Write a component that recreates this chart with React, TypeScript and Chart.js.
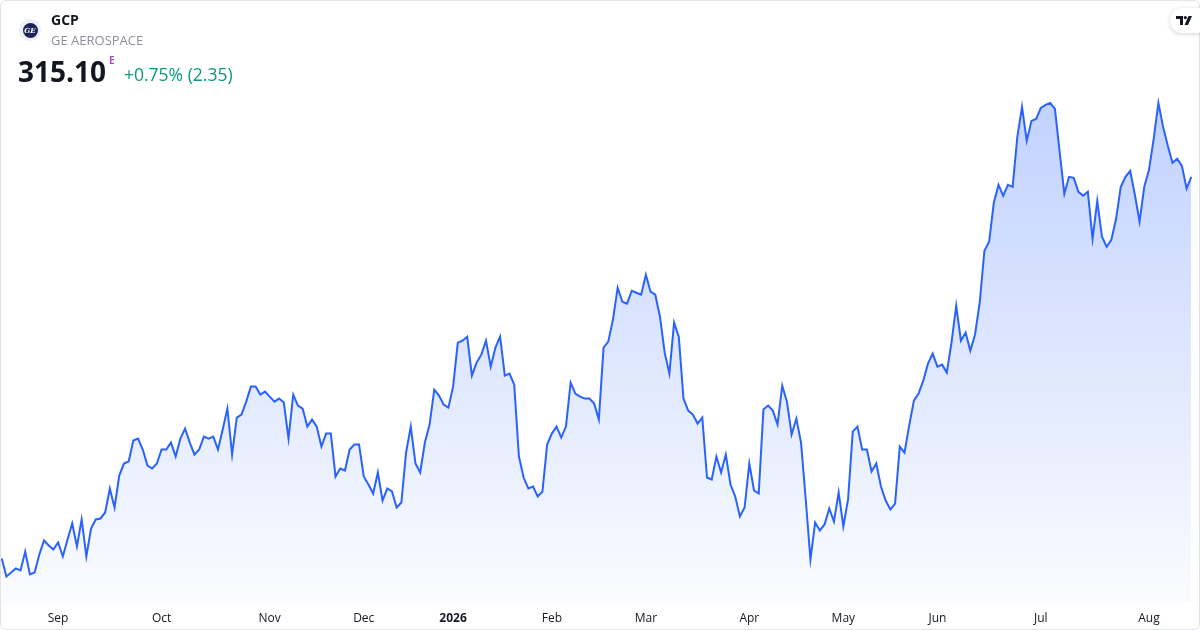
import React, { useEffect, useRef } from 'react';
import { Chart, registerables } from 'chart.js';

Chart.register(...registerables);

// Daily closes, one array per month
const AUG_2025 = [238.7, 235.1, 235.9, 236.7, 236.3, 240.1, 235.5, 235.9, 239.5, 242.3, 241.3, 240.5];
const SEP_2025 = [241.9, 239.1, 242.5, 245.7, 241.1, 246.5, 239.1, 244.7, 246.5, 246.7, 247.9, 252.7, 248.9, 255.3, 257.7, 258.1, 262.3, 262.7, 260.5, 257.3, 256.7, 257.7];
const OCT_2025 = [260.5, 260.5, 261.9, 259.1, 262.7, 264.7, 261.9, 259.5, 260.5, 263.1, 262.7, 263.1, 260.5, 264.5, 268.7, 259.5, 266.9, 267.5, 270.1, 273.1, 273.1, 271.5, 272.1];
const NOV_2025 = [271.1, 270.1, 270.7, 269.9, 262.7, 271.5, 269.3, 268.7, 265.1, 266.5, 265.1, 261.1, 263.7, 263.7, 255.1, 256.7, 256.3, 260.5, 261.5, 261.5];
const DEC_2025 = [255.1, 253.5, 251.7, 255.9, 250.3, 252.7, 252.1, 248.9, 249.9, 259.9, 265.1, 257.7, 255.9, 261.9, 265.5, 272.5, 271.3, 269.5, 268.9];
const JAN_2026 = [273.1, 281.9, 282.3, 283.1, 275.3, 277.9, 279.5, 282.3, 277.1, 280.9, 283.1, 275.3, 275.7, 273.5, 259.1, 254.9, 252.7, 253.1, 251.1, 252.1, 261.5];
const FEB_2026 = [263.7, 265.1, 262.9, 265.1, 273.9, 271.7, 271.1, 270.7, 270.7, 269.7, 266.5, 280.9, 282.1, 286.5, 292.9, 290.1, 289.7, 292.3, 291.9, 291.5];
const MAR_2026 = [295.5, 292.1, 291.5, 287.1, 279.9, 275.7, 285.9, 283.1, 270.7, 268.3, 267.5, 265.7, 266.9, 254.9, 254.5, 259.1, 255.9, 259.5, 253.5, 251.1, 247.1, 248.9];
const APR_2026 = [257.7, 252.3, 251.7, 268.5, 269.3, 268.3, 265.5, 273.3, 270.1, 263.5, 266.7, 261.9, 250.5, 238.5, 245.9, 244.3, 245.5, 248.7, 246.1, 251.9];
const MAY_2026 = [245.1, 250.5, 264.1, 265.1, 260.5, 260.5, 256.1, 257.7, 253.1, 250.3, 248.5, 249.7, 261.1, 259.9, 265.3, 270.3, 271.7, 274.3, 277.7, 279.7];
const JUN_2026 = [277.1, 277.5, 275.9, 281.9, 289.3, 282.3, 283.9, 280.3, 283.5, 289.9, 300.3, 302.1, 309.9, 313.5, 311.3, 313.5, 313.1, 323.1, 329.1, 322.3, 326.3, 326.7];
const JUL_2026 = [328.9, 329.5, 329.9, 328.7, 320.1, 311.7, 315.1, 314.9, 312.1, 311.3, 312.1, 302.7, 310.3, 303.1, 301.1, 302.5, 306.7, 313.1, 315.1, 316.3, 311.5, 306.1, 313.1];
const AUG_2026 = [316.5, 322.7, 329.9, 325.1, 321.3, 317.9, 318.7, 317.3, 312.75, 315.1];

const MONTH_SERIES = [AUG_2025, SEP_2025, OCT_2025, NOV_2025, DEC_2025, JAN_2026, FEB_2026, MAR_2026, APR_2026, MAY_2026, JUN_2026, JUL_2026, AUG_2026];
// Tick label shown on the first trading day of each month ('' = not shown)
const MONTH_TICKS = ['', 'Sep', 'Oct', 'Nov', 'Dec', '2026', 'Feb', 'Mar', 'Apr', 'May', 'Jun', 'Jul', 'Aug'];

const Y_MIN = 229.5;
const Y_MAX = 350.5;

const LINE_COLOR = '#2962FF';

export default function App() {
  const canvasRef = useRef<HTMLCanvasElement | null>(null);

  useEffect(() => {
    const canvas = canvasRef.current;
    if (!canvas) return;

    const labels: string[] = [];
    const values: number[] = [];
    MONTH_SERIES.forEach((arr, m) => {
      arr.forEach((v, i) => {
        labels.push(i === 0 ? MONTH_TICKS[m] : '');
        values.push(v);
      });
    });

    const chart = new Chart(canvas, {
      type: 'line',
      data: {
        labels,
        datasets: [
          {
            data: values,
            borderColor: LINE_COLOR,
            borderWidth: 2,
            pointRadius: 0,
            pointHoverRadius: 0,
            tension: 0,
            fill: 'start',
            backgroundColor: (ctx: any) => {
              const area = ctx.chart.chartArea;
              if (!area) return 'rgba(41,98,255,0.15)';
              const g = ctx.chart.ctx.createLinearGradient(0, area.top, 0, area.bottom);
              g.addColorStop(0, 'rgba(41,98,255,0.34)');
              g.addColorStop(1, 'rgba(41,98,255,0.02)');
              return g;
            },
          },
        ],
      },
      options: {
        animation: false,
        responsive: true,
        maintainAspectRatio: false,
        layout: { padding: { left: 1.7, right: 8.7, top: 0, bottom: 1.6 } },
        plugins: {
          legend: { display: false },
          tooltip: { enabled: false },
        },
        scales: {
          x: {
            type: 'category',
            offset: false,
            grid: { display: false, drawTicks: false },
            border: { display: false },
            afterFit: (scale: any) => {
              scale.paddingLeft = 0;
              scale.paddingRight = 0;
              scale.height = 24;
            },
            ticks: {
              autoSkip: false,
              maxRotation: 0,
              minRotation: 0,
              padding: 7,
              color: '#131722',
              font: (ctx: any) => ({
                family: '"Open Sans", sans-serif',
                size: 12,
                weight: ctx.tick && ctx.tick.label === '2026' ? 'bold' : 'normal',
              }),
            },
          },
          y: {
            display: false,
            min: Y_MIN,
            max: Y_MAX,
          },
        },
      },
    });

    return () => chart.destroy();
  }, []);

  return (
    <div
      style={{
        position: 'absolute',
        left: 0,
        top: 0,
        width: 1200,
        height: 630,
        background: '#ffffff',
        fontFamily: '"Open Sans", sans-serif',
        overflow: 'hidden',
      }}
    >
      <div style={{ position: 'absolute', left: 0, top: 0, width: 1200, height: 630 }}>
        <canvas ref={canvasRef} />
      </div>
      <div
        style={{
          position: 'absolute',
          inset: 0,
          border: '1px solid #e0e3eb',
          borderRadius: 6,
          boxSizing: 'border-box',
          pointerEvents: 'none',
        }}
      />
      {/* logo */}
      <div
        style={{
          position: 'absolute',
          left: 19,
          top: 19,
          width: 22,
          height: 22,
          borderRadius: 11,
          background: '#eef0f7',
          display: 'flex',
          alignItems: 'center',
          justifyContent: 'center',
        }}
      >
        <div
          style={{
            width: 15,
            height: 15,
            borderRadius: 8,
            background: '#1b2358',
            color: '#ffffff',
            fontSize: 7,
            fontWeight: 700,
            fontStyle: 'italic',
            display: 'flex',
            alignItems: 'center',
            justifyContent: 'center',
            lineHeight: 1,
            fontFamily: '"DejaVu Serif", serif',
          }}
        >
          GE
        </div>
      </div>
      <div style={{ position: 'absolute', left: 51, top: 10, fontSize: 14, fontWeight: 700, color: '#131722', lineHeight: '20px' }}>
        GCP
      </div>
      <div style={{ position: 'absolute', left: 51, top: 31, fontSize: 13, color: '#8c8f99', lineHeight: '18px' }}>
        GE AEROSPACE
      </div>
      <div style={{ position: 'absolute', left: 18, top: 52, fontSize: 28, fontWeight: 700, color: '#131722', lineHeight: '38px' }}>
        315.10
      </div>
      <div style={{ position: 'absolute', left: 109, top: 54, fontSize: 10, fontWeight: 700, color: '#a84bc4', lineHeight: '12px' }}>
        E
      </div>
      <div style={{ position: 'absolute', left: 124, top: 61, fontSize: 17.5, color: '#089981', lineHeight: '26px' }}>
        +0.75% (2.35)
      </div>
      {/* TradingView badge */}
      <div
        style={{
          position: 'absolute',
          left: 1170,
          top: 8,
          width: 40,
          height: 25,
          borderRadius: 12,
          background: '#ffffff',
          boxShadow: '0 1px 4px rgba(0,0,0,0.18)',
        }}
      >
        <svg width="16" height="9" viewBox="0 0 16 9" style={{ position: 'absolute', left: 6, top: 8 }}>
          <path d="M0 0h7v9H4V3H0z" fill="#131722" />
          <circle cx="9.3" cy="1.6" r="1.6" fill="#131722" />
          <path d="M12.5 0H16l-4 9H8.6z" fill="#131722" />
        </svg>
      </div>
    </div>
  );
}
